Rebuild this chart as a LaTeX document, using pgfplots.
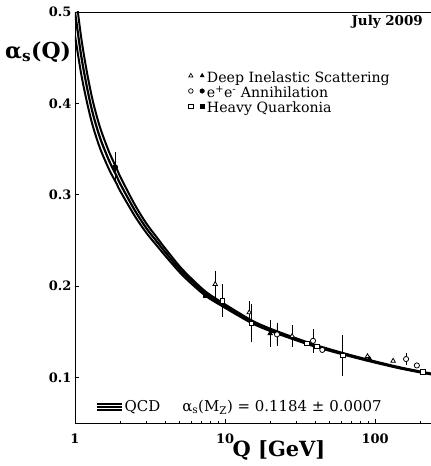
\documentclass[border=0pt]{standalone}
\usepackage{pgfplots}
\usepackage{pgfplotstable}
\pgfplotsset{compat=1.18}
\usepackage{fontspec}
\setmainfont{DejaVu Serif}

% QCD band: central value and +/- uncertainty
\pgfplotstableread{
Q a lo hi
1.0 0.500 0.4744 0.5256
1.1 0.452 0.4321 0.4719
1.2 0.418 0.4016 0.4344
1.3 0.392 0.3780 0.4060
1.4 0.373 0.3607 0.3853
1.5 0.358 0.3469 0.3691
1.7 0.336 0.3265 0.3455
1.9 0.320 0.3116 0.3284
2.0 0.312 0.3041 0.3199
2.5 0.283 0.2768 0.2892
3.0 0.263 0.2579 0.2681
3.5 0.249 0.2445 0.2535
4.0 0.237 0.2330 0.2410
5.0 0.218 0.2148 0.2212
6.0 0.205 0.2022 0.2078
7.5 0.191 0.1887 0.1933
10 0.178 0.1761 0.1799
15 0.161 0.1595 0.1625
20 0.152 0.1507 0.1533
30 0.1415 0.1404 0.1426
40 0.1345 0.1335 0.1355
60 0.1262 0.1254 0.1270
91.2 0.1184 0.1177 0.1191
150 0.1100 0.1094 0.1106
240 0.1035 0.1030 0.1040
}\qcd

% Deep inelastic scattering
\pgfplotstableread{
Q a e
8.6 0.202 0.012
14.5 0.171 0.010
28 0.145 0.009
}\disopenerr
\pgfplotstableread{
Q a
89 0.123
132 0.118
}\disopen
\pgfplotstableread{
Q a e
20 0.148 0.012
}\disfullerr
\pgfplotstableread{
Q a
92 0.120
}\disfull
% e+e- annihilation
\pgfplotstableread{
Q a e
1.85 0.330 0.014
}\eefull
\pgfplotstableread{
Q a e
22.2 0.147 0.010
38.6 0.140 0.010
161 0.120 0.004
}\eeopenerr
\pgfplotstableread{
Q a
44.5 0.130
190 0.113
}\eeopen
% heavy quarkonia
\pgfplotstableread{
Q a
7.4 0.190
}\hqfull
\pgfplotstableread{
Q a e
9.6 0.184 0.015
15 0.159 0.018
61 0.124 0.020
}\hqopenerr
\pgfplotstableread{
Q a
35 0.137
41 0.134
208 0.106
}\hqopen

\newcommand\band{\raisebox{0.1ex}{\rlap{\rule[0pt]{25pt}{1.5pt}}\rlap{\rule[3pt]{25pt}{1.5pt}}\rule[6pt]{25pt}{1.5pt}}}

\begin{document}
\begin{tikzpicture}
\begin{axis}[
  scale only axis, width=356bp, height=411bp,
  xmode=log, xmin=1, xmax=236, ymin=0.05, ymax=0.5,
  separate axis lines, axis x line=box, axis y line=left,
  axis line style={-, line width=1pt},
  xtick={1,10,100}, xticklabels={1,10,100},
  minor xtick={2,3,4,5,6,7,8,9,20,30,40,50,60,70,80,90,200},
  ytick={0.1,0.2,0.3,0.4,0.5}, yticklabels={0.1,0.2,0.3,0.4,0.5},
  xtick pos=bottom, ytick pos=left,
  tick align=inside, major tick length=4pt, minor tick length=2.5pt,
  tick style={black, line width=0.8pt},
  ticklabel style={font=\bfseries\fontsize{13}{13}\selectfont},
  xticklabel style={yshift=-7pt},
  legend style={draw=none, fill=none, at={(rel axis cs:0.31,0.86)}, anchor=north west,
     font=\fontsize{14.2}{14.2}\selectfont, row sep=1.5pt,
     nodes={inner ysep=0pt, inner xsep=2.5pt, text height=10.5pt, text depth=3.3pt}},
  legend cell align=left,
  errstyle/.style={only marks, forget plot,
     error bars/y dir=both, error bars/y explicit,
     error bars/error bar style={line width=0.8pt, black, solid},
     error bars/error mark options={line width=0.8pt, mark size=2.6pt, black, solid}},
  openmk/.style={draw=black, fill=white, mark size=2.6pt, mark options={line width=0.8pt, draw=black, fill=white}},
  fullmk/.style={draw=black, fill=black, mark size=2.6pt, mark options={line width=0.8pt, draw=black, fill=black}},
]
\coordinate (bl) at (rel axis cs:0,0);
\coordinate (tr) at (rel axis cs:1,1);
% QCD band
\addplot[black, line width=2pt, smooth, forget plot] table[x=Q, y=hi]{\qcd};
\addplot[black, line width=2pt, smooth, forget plot] table[x=Q, y=lo]{\qcd};
\addplot[black, line width=2.2pt, smooth, forget plot] table[x=Q, y=a]{\qcd};

% DIS
\addplot[errstyle, mark=triangle*, openmk] table[x=Q, y=a, y error=e]{\disopenerr};
\addplot[only marks, forget plot, mark=triangle*, openmk] table[x=Q, y=a]{\disopen};
\addplot[errstyle, mark=triangle*, fullmk] table[x=Q, y=a, y error=e]{\disfullerr};
\addplot[only marks, forget plot, mark=triangle*, fullmk] table[x=Q, y=a]{\disfull};
% e+e-
\addplot[errstyle, mark=*, fullmk] table[x=Q, y=a, y error=e]{\eefull};
\addplot[errstyle, mark=*, openmk] table[x=Q, y=a, y error=e]{\eeopenerr};
\addplot[only marks, forget plot, mark=*, openmk] table[x=Q, y=a]{\eeopen};
% quarkonia
\addplot[only marks, forget plot, mark=square*, fullmk, mark size=2.3pt] table[x=Q, y=a]{\hqfull};
\addplot[errstyle, mark=square*, openmk, mark size=2.3pt] table[x=Q, y=a, y error=e]{\hqopenerr};
\addplot[only marks, forget plot, mark=square*, openmk, mark size=2.3pt] table[x=Q, y=a]{\hqopen};

% legend
\addlegendimage{legend image code/.code={
  \draw[black, mark=triangle*, mark size=2.4pt, mark options={fill=white, line width=0.7pt}] plot coordinates {(0cm,0.1cm)};
  \draw[black, mark=triangle*, mark size=2.4pt, mark options={fill=black}] plot coordinates {(0.4cm,0.1cm)};}}
\addlegendentry{Deep Inelastic Scattering}
\addlegendimage{legend image code/.code={
  \draw[black, mark=*, mark size=2.3pt, mark options={fill=white, line width=0.7pt}] plot coordinates {(0cm,0.1cm)};
  \draw[black, mark=*, mark size=2.3pt, mark options={fill=black}] plot coordinates {(0.4cm,0.1cm)};}}
\addlegendentry{e\textsuperscript{+}e\textsuperscript{-} Annihilation}
\addlegendimage{legend image code/.code={
  \draw[black, mark=square*, mark size=2.1pt, mark options={fill=white, line width=0.7pt}] plot coordinates {(0cm,0.1cm)};
  \draw[black, mark=square*, mark size=2.1pt, mark options={fill=black}] plot coordinates {(0.4cm,0.1cm)};}}
\addlegendentry{Heavy Quarkonia}
\end{axis}
% texts
\node[anchor=west, font=\bfseries\fontsize{22}{22}\selectfont, inner sep=0pt] at ([xshift=-70bp, yshift=-40bp]bl|-tr) {α\textsubscript{s}(Q)};
\node[anchor=east, font=\bfseries\fontsize{13.5}{13.5}\selectfont, inner sep=0pt] at ([xshift=-8bp, yshift=-10bp]tr) {July 2009};
\node[anchor=west, font=\fontsize{15}{15}\selectfont, inner sep=0pt] at ([xshift=22bp, yshift=16bp]bl) {\band\,QCD\hspace{22bp}α\textsubscript{s}(M\textsubscript{Z}) = 0.1184 ± 0.0007};
\node[font=\bfseries\fontsize{21}{21}\selectfont, inner sep=0pt] at ([xshift=204bp, yshift=-27bp]bl) {Q [GeV]};
\pgfresetboundingbox
\path ([xshift=-75bp, yshift=-43bp]bl) rectangle ([yshift=12bp]tr);
\end{tikzpicture}
\end{document}
